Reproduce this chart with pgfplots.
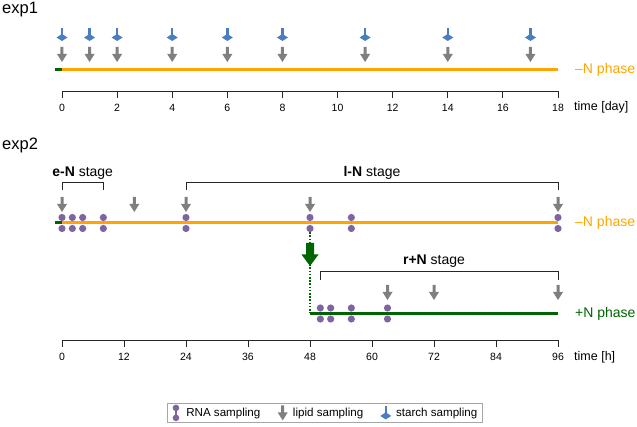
\documentclass[border=0pt]{standalone}
\usepackage{pgfplots}
\pgfplotsset{compat=1.18}
\usepackage{fontspec}
\setmainfont{Liberation Sans}
\definecolor{orn}{RGB}{255,165,0}
\definecolor{grn}{RGB}{0,100,0}
\definecolor{prp}{RGB}{128,100,162}
\definecolor{gry}{RGB}{127,127,127}
\definecolor{blu}{RGB}{74,126,193}

\pgfdeclareplotmark{lipid}{%
 \pgfpathmoveto{\pgfpoint{-1.5pt}{7.5pt}}%
 \pgfpathlineto{\pgfpoint{1.5pt}{7.5pt}}%
 \pgfpathlineto{\pgfpoint{1.5pt}{0.5pt}}%
 \pgfpathlineto{\pgfpoint{5pt}{0.5pt}}%
 \pgfpathlineto{\pgfpoint{0pt}{-7.5pt}}%
 \pgfpathlineto{\pgfpoint{-5pt}{0.5pt}}%
 \pgfpathlineto{\pgfpoint{-1.5pt}{0.5pt}}%
 \pgfpathclose
 \pgfusepathqfill}
\pgfdeclareplotmark{starch}{%
 \pgfpathrectanglecorners{\pgfpoint{-1.2pt}{-3pt}}{\pgfpoint{1.2pt}{6.5pt}}%
 \pgfusepathqfill
 \pgfpathmoveto{\pgfpoint{-5.5pt}{-3pt}}%
 \pgfpathlineto{\pgfpoint{0pt}{0.5pt}}%
 \pgfpathlineto{\pgfpoint{5.5pt}{-3pt}}%
 \pgfpathlineto{\pgfpoint{0pt}{-6.5pt}}%
 \pgfpathclose
 \pgfusepathqfill}
\pgfdeclareplotmark{rna}{%
 \pgfpathcircle{\pgfpoint{0pt}{5.5pt}}{3.6pt}%
 \pgfusepathqfill
 \pgfpathcircle{\pgfpoint{0pt}{-5.5pt}}{3.6pt}%
 \pgfusepathqfill}
\pgfdeclareplotmark{rnaleg}{%
 \pgfpathrectanglecorners{\pgfpoint{-1.2pt}{-5pt}}{\pgfpoint{1.2pt}{5pt}}%
 \pgfusepathqfill
 \pgfpathcircle{\pgfpoint{0pt}{5pt}}{3.3pt}%
 \pgfusepathqfill
 \pgfpathcircle{\pgfpoint{0pt}{-5pt}}{3.3pt}%
 \pgfusepathqfill}
\pgfdeclareplotmark{bigarrow}{%
 \pgfpathmoveto{\pgfpoint{-4pt}{11.5pt}}%
 \pgfpathlineto{\pgfpoint{4pt}{11.5pt}}%
 \pgfpathlineto{\pgfpoint{4pt}{0pt}}%
 \pgfpathlineto{\pgfpoint{8.5pt}{0pt}}%
 \pgfpathlineto{\pgfpoint{0pt}{-11.5pt}}%
 \pgfpathlineto{\pgfpoint{-8.5pt}{0pt}}%
 \pgfpathlineto{\pgfpoint{-4pt}{0pt}}%
 \pgfpathclose
 \pgfusepathqfill}

\pgfplotsset{
  tlaxis/.style={
    scale only axis, clip=false,
    axis x line*=bottom, axis y line=none,
    ytick=\empty,
    xtick align=outside,
    major tick length=7pt,
    axis line style={line width=0.8pt, black!85},
    tick style={line width=0.8pt, black!85},
    tick label style={font=\fontsize{10.5}{12}\selectfont},
    /pgf/number format/assume math mode=true,
    xticklabel style={yshift=-3pt},
  }
}

\begin{document}
\begin{tikzpicture}
\useasboundingbox (0,0) rectangle (637pt,-427pt);
\node[anchor=base west, font=\fontsize{16.5}{19}\selectfont, inner sep=0pt] at (2pt,-14pt) {exp1};
\node[anchor=base west, font=\fontsize{16.5}{19}\selectfont, inner sep=0pt] at (2pt,-150pt) {exp2};

% ---------- exp1 ----------
\begin{axis}[tlaxis,
  at={(62pt,-91pt)}, anchor=south west,
  width=496pt, height=70pt,
  xmin=0, xmax=18, ymin=0, ymax=70,
  xtick={0,2,...,18}]
\addplot[grn, line width=3pt] coordinates {(-0.27,21) (0,21)};
\addplot[orn, line width=3pt] coordinates {(0,21) (18,21)};
\addplot[only marks, mark=lipid, gry] coordinates {
 (0,36.5) (1,36.5) (2,36.5) (4,36.5) (6,36.5) (8,36.5) (11,36.5) (14,36.5) (17,36.5)};
\addplot[only marks, mark=starch, blu] coordinates {
 (0,56.5) (1,56.5) (2,56.5) (4,56.5) (6,56.5) (8,56.5) (11,56.5) (14,56.5) (17,56.5)};
\node[anchor=west, orn, font=\fontsize{14}{16}\selectfont, inner sep=0pt] at (axis cs:18,21) [xshift=17pt] {–N phase};
\node[anchor=base west, font=\fontsize{12.5}{14}\selectfont, inner sep=0pt] at (axis cs:18,0) [xshift=16pt, yshift=-20pt] {time [day]};
\end{axis}

% ---------- exp2 ----------
\begin{axis}[tlaxis,
  at={(62pt,-340pt)}, anchor=south west,
  width=496pt, height=180pt,
  xmin=0, xmax=96, ymin=0, ymax=180,
  xtick={0,12,...,96},
  legend columns=3,
  legend style={at={(0.5302,-0.405)}, anchor=center, draw=gray!70, line width=0.6pt,
    font=\fontsize{11.6}{14}\selectfont, inner xsep=3pt, inner ysep=1.5pt,
    /tikz/every even column/.append style={column sep=15pt}},
  legend image code/.code={\draw plot coordinates {(5pt,0pt)};\path (0pt,0pt) (13pt,0pt);}]
% -N phase
\addplot[forget plot, only marks, mark=rna, prp] coordinates {
 (0,117) (2,117) (4,117) (8,117) (24,117) (48,117) (56,117) (96,117)};
\addplot[forget plot, grn, line width=3pt] coordinates {(-1.35,117) (0,117)};
\addplot[forget plot, orn, line width=3pt] coordinates {(0,117) (96,117)};
\addplot[forget plot, only marks, mark=lipid, gry] coordinates {
 (0,135.5) (14,135.5) (24,135.5) (48,135.5) (96,135.5)};
% brackets
\addplot[forget plot, black!85, line width=0.8pt] coordinates {(0,150) (0,158) (8,158) (8,150)};
\addplot[forget plot, black!85, line width=0.8pt] coordinates {(24,150) (24,158) (96,158) (96,150)};
\addplot[forget plot, black!85, line width=0.8pt] coordinates {(50,60) (50,69) (96,69) (96,60)};
% transfer
\addplot[forget plot, grn, line width=1.6pt, dash pattern=on 1.6pt off 1.6pt] coordinates {(48,111) (48,27)};
\addplot[forget plot, only marks, mark=bigarrow, grn] coordinates {(48,85.5)};
% +N phase
\addplot[forget plot, only marks, mark=rna, prp] coordinates {
 (50,26.5) (52,26.5) (56,26.5) (63,26.5)};
\addplot[forget plot, grn, line width=3pt] coordinates {(48,26.5) (96,26.5)};
\addplot[forget plot, only marks, mark=lipid, gry] coordinates {
 (63,47.5) (72,47.5) (96,47.5)};
% labels
\node[anchor=base, font=\fontsize{14}{16}\selectfont] at (axis cs:4,163) {\textbf{e-N} stage};
\node[anchor=base, font=\fontsize{14}{16}\selectfont] at (axis cs:60,163) {\textbf{l-N} stage};
\node[anchor=base, font=\fontsize{14}{16}\selectfont] at (axis cs:72,75) {\textbf{r+N} stage};
\node[anchor=west, orn, font=\fontsize{14}{16}\selectfont, inner sep=0pt] at (axis cs:96,117) [xshift=17pt] {–N phase};
\node[anchor=west, grn, font=\fontsize{14}{16}\selectfont, inner sep=0pt] at (axis cs:96,26.5) [xshift=17pt] {+N phase};
\node[anchor=base west, font=\fontsize{12.5}{14}\selectfont, inner sep=0pt] at (axis cs:96,0) [xshift=16pt, yshift=-20pt] {time [h]};
% legend
\addlegendimage{only marks, mark=rnaleg, prp}
\addlegendentry{RNA sampling}
\addlegendimage{only marks, mark=lipid, gry}
\addlegendentry{lipid sampling}
\addlegendimage{only marks, mark=starch, blu}
\addlegendentry{starch sampling}
\end{axis}
\end{tikzpicture}
\end{document}
